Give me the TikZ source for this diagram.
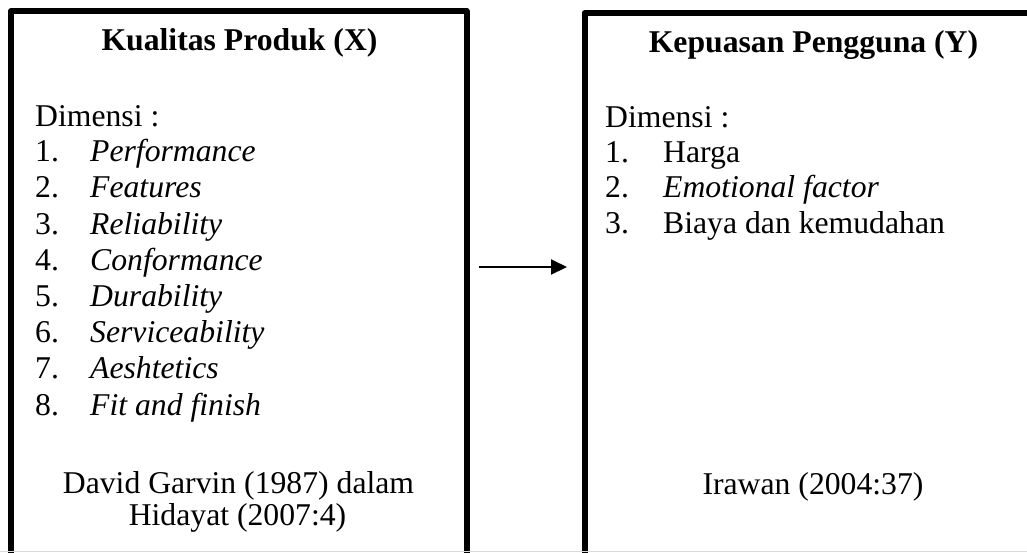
\documentclass[tikz,border=0pt]{standalone}
\usepackage{fontspec}
\setmainfont{Liberation Serif}
\usetikzlibrary{arrows.meta}
\begin{document}
\begin{tikzpicture}[x=1pt,y=-1pt,
  frame/.style={line width=6pt,line join=round},
  txt/.style={inner sep=0pt,font=\fontsize{31.7}{36.2}\selectfont},
  ttl/.style={txt,font=\fontsize{31.7}{36.2}\selectfont\bfseries,anchor=base},
  line/.style={txt,anchor=base west},
  ctr/.style={txt,anchor=base},
  conn/.style={line width=2pt,-{Triangle[length=16pt,width=15pt]}}]
\useasboundingbox (0,0) rectangle (1027,552);
\clip (0,0) rectangle (1027,552);
\fill[white] (0,0) rectangle (1027,552);
% boxes
\draw[frame] (11,11) rectangle (466.5,580);
\draw[frame] (584.5,13) rectangle (1050,580);
% left box
\node[ttl] (tx) at (239.5,50) {Kualitas Produk (X)};
\node[line] (dx) at (35,126) {Dimensi :};
\foreach \i/\t [count=\k] in {1/Performance,2/Features,3/Reliability,4/Conformance,5/Durability,6/Serviceability,7/Aeshtetics,8/Fit and finish}{
  \node[line] (nx\k) at (35,125.5+36.2*\k) {\i.};
  \node[line] (ix\k) at (90,125.5+36.2*\k) {\itshape \t};
}
\node[ctr] (sx1) at (238.5,493) {David Garvin (1987) dalam};
\node[ctr] (sx2) at (237.5,525) {Hidayat (2007:4)};
% right box
\node[ttl] (ty) at (813.5,52) {Kepuasan Pengguna (Y)};
\node[line] (dy) at (605,127) {Dimensi :};
\node[line] (ny1) at (605,162) {1.};
\node[line] (iy1) at (663,162) {Harga};
\node[line] (ny2) at (605,197.5) {2.};
\node[line] (iy2) at (663,197.5) {\itshape Emotional factor};
\node[line] (ny3) at (605,233) {3.};
\node[line] (iy3) at (663,233) {Biaya dan kemudahan};
\node[ctr] (sy) at (813,494) {Irawan (2004:37)};
% connector
\coordinate (a1) at (479,267);
\coordinate (a2) at (567,267);
\draw[conn] (a1) -- (a2);
% bottom edge
\draw[black!15,line width=1pt] (0,551.5) -- (1027,551.5);
\end{tikzpicture}
\end{document}
